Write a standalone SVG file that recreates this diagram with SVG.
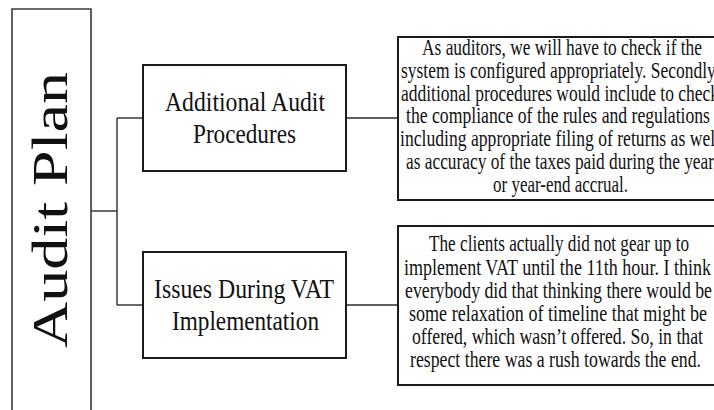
<svg xmlns="http://www.w3.org/2000/svg" width="714" height="410" viewBox="0 0 714 410">
<style>
  .bg { fill: #ffffff; }
  .box { fill: #ffffff; stroke: #1a1a1a; stroke-width: 2; }
  .fill { fill: #ffffff; stroke: none; }
  .edge { fill: none; stroke: #1a1a1a; stroke-width: 2; }
  .root { fill: #ffffff; stroke: #3a3a3a; stroke-width: 1.6; }
  .conn { fill: none; stroke: #2a2a2a; stroke-width: 1.4; }
  text { font-family: "Liberation Serif", "Times New Roman", serif; fill: #111111; text-anchor: middle; }
  .title { font-size: 51px; }
  .mid { font-size: 28px; }
  .body { font-size: 23px; }
</style>
<rect class="bg" x="0" y="0" width="714" height="410"/>

<g id="connectors">
  <path class="conn" d="M91,211 H117"/>
  <path class="conn" d="M117,118 V305"/>
  <path class="conn" d="M117,118 H143"/>
  <path class="conn" d="M117,305 H143"/>
  <path class="conn" d="M346,118 H398"/>
  <path class="conn" d="M346,305 H398"/>
</g>

<g id="audit-plan">
  <path class="root" d="M12,412 V9 H91 V412"/>
  <text class="title" transform="translate(67,210) rotate(-90)" x="0" y="0" textLength="276" lengthAdjust="spacingAndGlyphs">Audit Plan</text>
</g>

<g id="additional-audit-procedures">
  <rect class="box" x="143" y="65" width="203" height="106"/>
  <text class="mid" x="245" y="111" textLength="160" lengthAdjust="spacingAndGlyphs">Additional Audit</text>
  <text class="mid" x="244.5" y="143" textLength="103" lengthAdjust="spacingAndGlyphs">Procedures</text>
</g>

<g id="issues-during-vat">
  <rect class="box" x="143" y="252" width="203" height="106"/>
  <text class="mid" x="244" y="298" textLength="180" lengthAdjust="spacingAndGlyphs">Issues During VAT</text>
  <text class="mid" x="245.5" y="330" textLength="147" lengthAdjust="spacingAndGlyphs">Implementation</text>
</g>

<g id="procedures-detail">
  <rect class="fill" x="398" y="37" width="316" height="163"/>
  <path class="edge" d="M714,37 H398 V200 H714"/>
  <text class="body" transform="translate(562,0) scale(0.72,1)" x="0" y="55" textLength="388.9" lengthAdjust="spacingAndGlyphs">As auditors, we will have to check if the</text>
  <text class="body" transform="translate(560,0) scale(0.72,1)" x="0" y="77.8" textLength="441.7" lengthAdjust="spacingAndGlyphs">system is configured appropriately. Secondly,</text>
  <text class="body" transform="translate(560,0) scale(0.72,1)" x="0" y="100.6" textLength="441.7" lengthAdjust="spacingAndGlyphs">additional procedures would include to check</text>
  <text class="body" transform="translate(558,0) scale(0.72,1)" x="0" y="123.4" textLength="422.2" lengthAdjust="spacingAndGlyphs">the compliance of the rules and regulations</text>
  <text class="body" transform="translate(560,0) scale(0.72,1)" x="0" y="146.2" textLength="444.4" lengthAdjust="spacingAndGlyphs">including appropriate filing of returns as well</text>
  <text class="body" transform="translate(560,0) scale(0.72,1)" x="0" y="169" textLength="427.8" lengthAdjust="spacingAndGlyphs">as accuracy of the taxes paid during the year</text>
  <text class="body" transform="translate(560.5,0) scale(0.72,1)" x="0" y="192.5" textLength="187.5" lengthAdjust="spacingAndGlyphs">or year-end  accrual.</text>
</g>

<g id="issues-detail">
  <rect class="fill" x="398" y="226" width="316" height="159"/>
  <path class="edge" d="M714,226 H398 V385 H714"/>
  <text class="body" transform="translate(559,0) scale(0.72,1)" x="0" y="251.5" textLength="361.1" lengthAdjust="spacingAndGlyphs">The clients actually did not gear up to</text>
  <text class="body" transform="translate(557.5,0) scale(0.72,1)" x="0" y="274.7" textLength="426.4" lengthAdjust="spacingAndGlyphs">implement VAT until the 11th hour. I think</text>
  <text class="body" transform="translate(558.5,0) scale(0.72,1)" x="0" y="297.9" textLength="426.4" lengthAdjust="spacingAndGlyphs">everybody  did that thinking there would be</text>
  <text class="body" transform="translate(558,0) scale(0.72,1)" x="0" y="321.1" textLength="413.9" lengthAdjust="spacingAndGlyphs">some relaxation of timeline that might be</text>
  <text class="body" transform="translate(557.5,0) scale(0.72,1)" x="0" y="344.3" textLength="404.2" lengthAdjust="spacingAndGlyphs">offered, which wasn’t offered. So, in that</text>
  <text class="body" transform="translate(555.5,0) scale(0.72,1)" x="0" y="367.5" textLength="404.2" lengthAdjust="spacingAndGlyphs">respect there was a rush towards the end.</text>
</g>
</svg>
